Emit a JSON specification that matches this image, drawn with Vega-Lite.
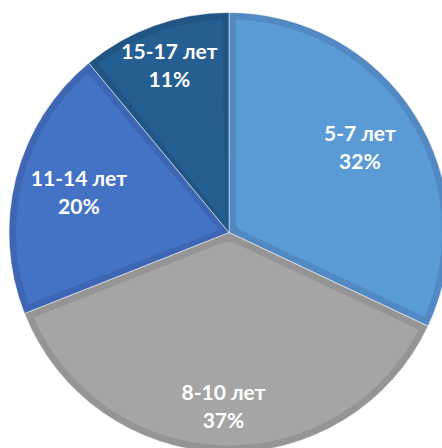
{
  "$schema": "https://vega.github.io/schema/vega-lite/v6.json",
  "autosize": "none",
  "padding": 0,
  "width": 458,
  "height": 465,
  "background": "#ffffff",
  "config": {"view": {"stroke": null}},
  "data": {
    "values": [
      {"group": "5-7 лет", "pct": 32, "label": "5-7 лет\n32%", "ord": 1},
      {"group": "8-10 лет", "pct": 37, "label": "8-10 лет\n37%", "ord": 2},
      {"group": "11-14 лет", "pct": 20, "label": "11-14 лет\n20%", "ord": 3},
      {"group": "15-17 лет", "pct": 11, "label": "15-17 лет\n11%", "ord": 4}
    ]
  },
  "encoding": {
    "theta": {"field": "pct", "type": "quantitative", "stack": true},
    "order": {"field": "ord", "type": "quantitative"}
  },
  "layer": [
    {
      "mark": {"type": "arc", "outerRadius": 220, "stroke": "#ffffff", "strokeWidth": 1, "strokeOpacity": 0.5},
      "encoding": {
        "color": {
          "field": "group", "type": "nominal", "legend": null,
          "scale": {"domain": ["5-7 лет", "8-10 лет", "11-14 лет", "15-17 лет"], "range": ["#5289C2", "#959595", "#3E66B2", "#215583"]}
        }
      }
    },
    {
      "mark": {"type": "arc", "outerRadius": 213, "innerRadius": 10, "padAngle": 0.0657},
      "encoding": {
        "fill": {
          "field": "group", "type": "nominal", "legend": null,
          "scale": {"domain": ["5-7 лет", "8-10 лет", "11-14 лет", "15-17 лет"], "range": ["#5B9BD5", "#A5A5A5", "#4472C4", "#255E91"]}
        }
      }
    },
    {
      "mark": {"type": "text", "radius": 176, "dy": -14, "font": "Lato", "fontWeight": "bold", "fontSize": 21, "fill": "#ffffff", "lineBreak": "\n", "lineHeight": 28, "align": "center", "baseline": "middle"},
      "encoding": {
        "text": {"field": "label", "type": "nominal"},
        "opacity": {"condition": {"test": "datum.ord % 2 == 0", "value": 1}, "value": 0}
      }
    },
    {
      "mark": {"type": "text", "radius": 155, "dy": -14, "font": "Lato", "fontWeight": "bold", "fontSize": 21, "fill": "#ffffff", "lineBreak": "\n", "lineHeight": 28, "align": "center", "baseline": "middle"},
      "encoding": {
        "text": {"field": "label", "type": "nominal"},
        "opacity": {"condition": {"test": "datum.ord % 2 == 1", "value": 1}, "value": 0}
      }
    }
  ],
  "resolve": {"scale": {"color": "independent", "fill": "independent"}}
}
